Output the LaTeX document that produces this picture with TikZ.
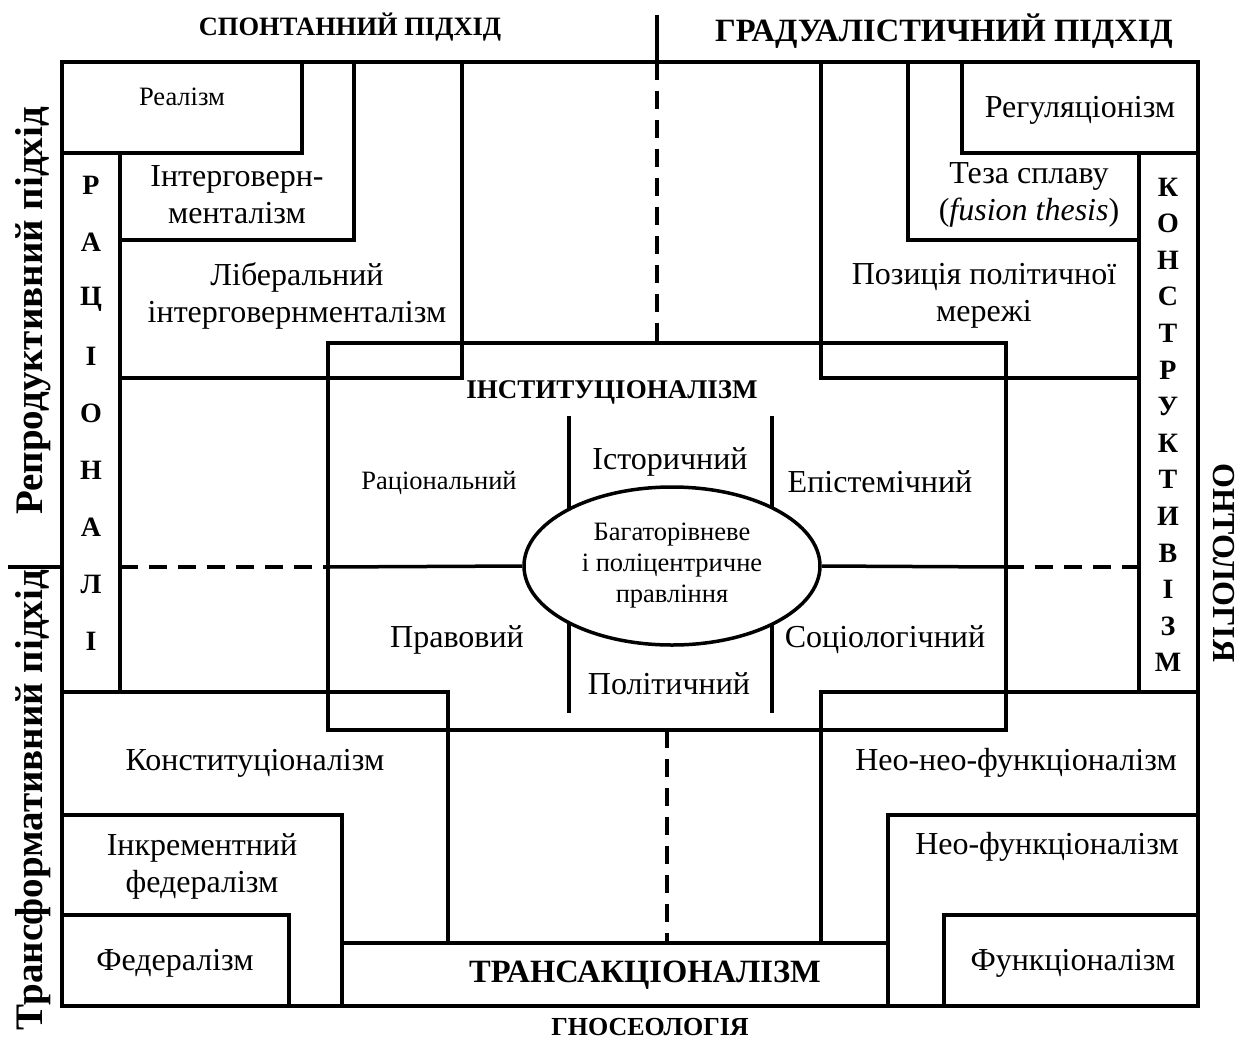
\documentclass[tikz,border=0pt]{standalone}
\usepackage{fontspec}
\setmainfont{Liberation Serif}
\usetikzlibrary{shapes.geometric}

\tikzset{
  wall/.style={line width=3.5pt},
  sep/.style={line width=3.5pt,dash pattern=on 18pt off 11pt},
  txt/.style={font=\fontsize{32}{37}\selectfont,align=center,inner sep=0pt},
  smalltxt/.style={font=\fontsize{26.5}{31}\selectfont,align=center,inner sep=0pt},
  hdr/.style={font=\fontsize{32.5}{36}\selectfont\bfseries,inner sep=0pt},
  sidelbl/.style={font=\fontsize{39}{44}\selectfont\bfseries,inner sep=0pt},
  colletter/.style={font=\fontsize{28}{32}\selectfont\bfseries,inner sep=0pt}
}

\begin{document}
\begin{tikzpicture}[x=1pt,y=-1pt]
\useasboundingbox (0,0) rectangle (1245,1039);
% Outer frame
\draw [wall] (62,62) rectangle (1198,1006);
% Upper left corner
\draw [wall] (62,153) -- (302,153) -- (302,62);
\draw [wall] (120,153) -- (120,692);
\draw [wall] (120,240) -- (354,240) -- (354,62);
\draw [wall] (120,378) -- (462,378) -- (462,62);
% Upper right corner
\draw [wall] (962,62) -- (962,153) -- (1198,153);
\draw [wall] (1139,153) -- (1139,692);
\draw [wall] (908,62) -- (908,240) -- (1139,240);
\draw [wall] (821,62) -- (821,378) -- (1139,378);
% Lower left corner
\draw [wall] (62,692) -- (448,692) -- (448,943);
\draw [wall] (62,815) -- (342,815) -- (342,1006);
\draw [wall] (62,915) -- (289,915) -- (289,1006);
\draw [wall] (342,943) -- (888,943);
% Lower right corner
\draw [wall] (1198,692) -- (821,692) -- (821,943);
\draw [wall] (1198,815) -- (888,815) -- (888,1006);
\draw [wall] (1198,915) -- (944,915) -- (944,1006);
% Institutionalism
\draw [wall] (328,343) rectangle (1006,730);
\draw [wall] (569,416) -- (569,713);
\draw [wall] (772,416) -- (772,713);
\node [smalltxt,ellipse,draw,line width=3.5pt,fill=white,minimum width=296pt,minimum height=158pt] (gov) at (672,566) {Багаторівневе\\і поліцентричне\\правління};
% Axes
\draw [wall] (657,15) -- (657,62);
\draw [sep] (657,62) -- (657,343);
\draw [sep] (667,730) -- (667,943);
\draw [wall] (8,567) -- (62,567);
\draw [sep] (120,567) -- (328,567);
\draw [wall] (328,567) -- (gov.west);
\draw [wall] (gov.east) -- (1006,567);
\draw [sep] (1006,567) -- (1139,567);
% Headings
\node [hdr,font=\fontsize{26.5}{30}\selectfont\bfseries] (spont) at (350,27) {СПОНТАННИЙ ПІДХІД};
\node [hdr] (grad) at (944,31) {ГРАДУАЛІСТИЧНИЙ ПІДХІД};
\node [hdr,font=\fontsize{26}{30}\selectfont\bfseries] (gnos) at (650,1027) {ГНОСЕОЛОГІЯ};
\node [sidelbl,rotate=90] (repr) at (33,311) {Репродуктивний підхід};
\node [sidelbl,rotate=90] (transf) at (33,800) {Трансформативний підхід};
\node [hdr,font=\fontsize{32}{36}\selectfont\bfseries,rotate=-90] (ont) at (1224,563) {ОНТОЛОГІЯ};
% Columns
\foreach \l [count=\i] in {Р,А,Ц,І,О,Н,А,Л,І}
  \node [colletter] (rat\i) at (91,{128+57*\i}) {\l};
\foreach \l [count=\i] in {К,О,Н,С,Т,Р,У,К,Т,И,В,І,З,М}
  \node [colletter] (con\i) at (1168,{150.4+36.6*\i}) {\l};
% Boxes
\node [smalltxt] (real) at (182,97) {Реалізм};
\node [txt] (intgov) at (237,195) {Інтерговерн-\\менталізм};
\node [txt] (libint) at (297,296) {Ліберальний\\інтерговернменталізм};
\node [txt] (regul) at (1080,110) {Регуляціонізм};
\node [txt] (fusion) at (1029,195) {Теза сплаву\\(\textit{fusion thesis})};
\node [txt] (netw) at (984,296) {Позиція політичної\\мережі};
\node [hdr,font=\fontsize{27}{30}\selectfont\bfseries] (inst) at (612,392) {ІНСТИТУЦІОНАЛІЗМ};
\node [smalltxt] (ratinst) at (439,483) {Раціональний};
\node [txt] (hist) at (670,462) {Історичний};
\node [txt] (epist) at (880,482) {Епістемічний};
\node [txt] (legal) at (457,640) {Правовий};
\node [txt] (polit) at (669,684) {Політичний};
\node [txt] (soc) at (885,640) {Соціологічний};
\node [txt] (const) at (255,763) {Конституціоналізм};
\node [txt] (incfed) at (202,866) {Інкрементний\\федералізм};
\node [txt] (fed) at (175,963) {Федералізм};
\node [hdr] (trans) at (645,975) {ТРАНСАКЦІОНАЛІЗМ};
\node [txt] (neoneo) at (1016,763) {Нео-нео-функціоналізм};
\node [txt] (neo) at (1047,847) {Нео-функціоналізм};
\node [txt] (func) at (1073,963) {Функціоналізм};
\end{tikzpicture}
\end{document}
